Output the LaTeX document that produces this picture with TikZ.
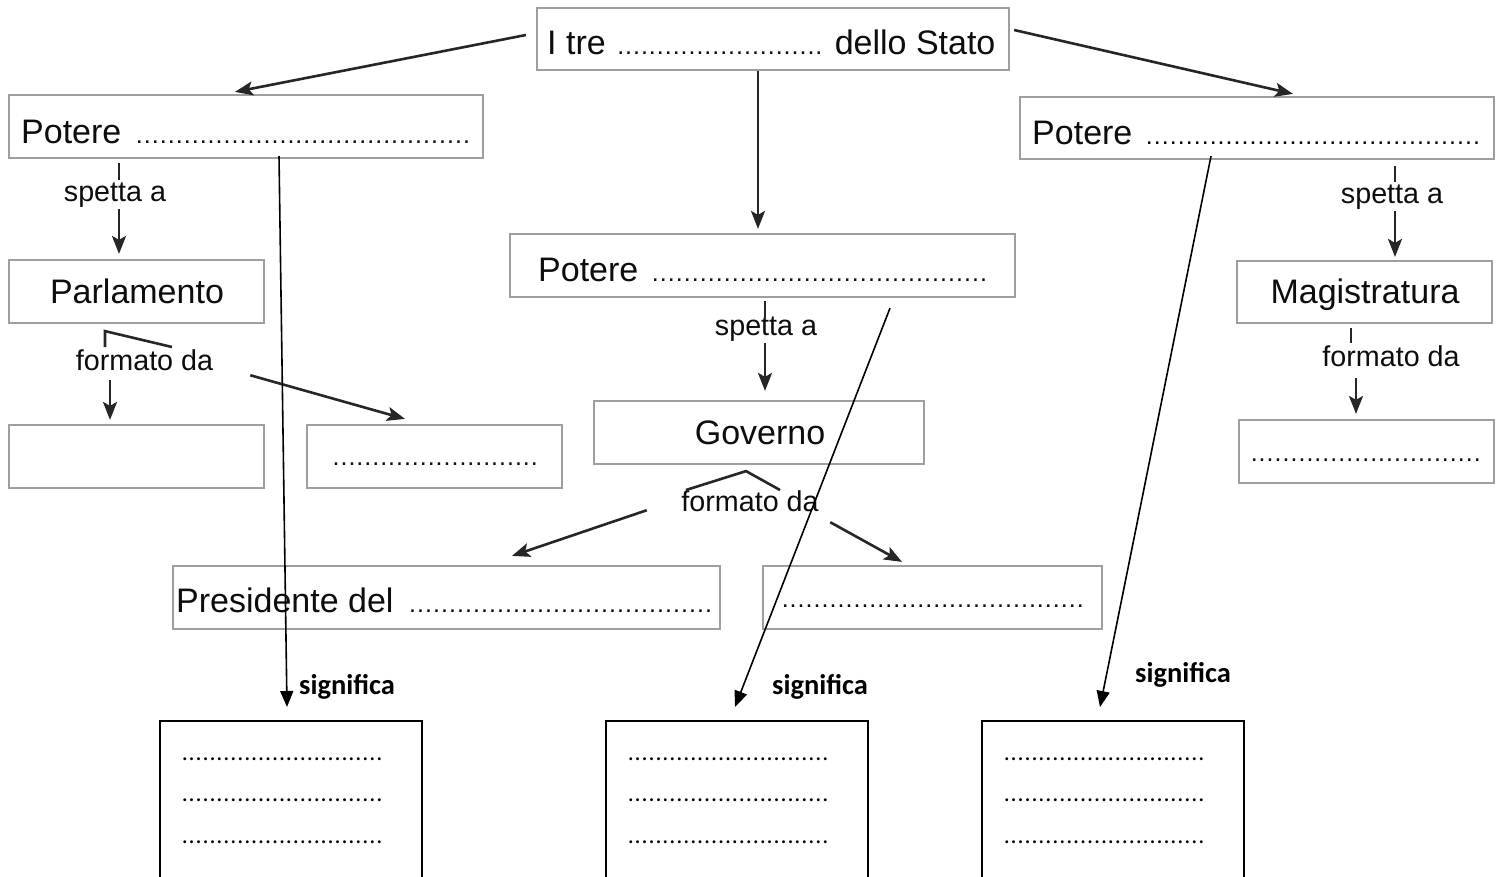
\documentclass[tikz,border=0pt]{standalone}
\usepackage{fontspec}
\setmainfont{Liberation Sans}
\newfontfamily\calibrifont{Carlito}
\usetikzlibrary{arrows.meta}
\newcommand\dotrow[2]{\hbox to #1{\xleaders\hbox to #2{\hss.\hss}\hfill}}
\newcommand\gdots[1]{{\fontsize{25}{28}\selectfont\dotrow{#1}{7.9pt}}}
\begin{document}
\begin{tikzpicture}[x=1pt,y=-1pt,
  gbox/.style={draw=gray!75, line width=2.2pt, minimum width=#1, minimum height=63pt, inner sep=0pt},
  bbox/.style={draw=black, line width=2pt, minimum width=262pt, minimum height=220pt, anchor=north, inner sep=0pt},
  bt/.style={font=\fontsize{34}{40}\selectfont, text=black!95, inner sep=0pt},
  lb/.style={font=\fontsize{28.7}{34}\selectfont, text=black!95, inner sep=2pt},
  sig/.style={font=\calibrifont\bfseries\fontsize{28.5}{34}\selectfont, inner sep=0pt},
  bd/.style={font=\calibrifont\fontsize{24}{28}\selectfont, inner sep=0pt},
  gl/.style={draw=black!85, line width=2.6pt},
  garr/.style={draw=black!85, line width=2.6pt, -{Stealth[length=18pt,width=14pt,inset=4pt]}},
  barr/.style={draw=black, line width=1.6pt, -{Triangle[length=16pt,width=13pt]}}
]
\clip (0,0) rectangle (1503,876);
\fill[white] (0,0) rectangle (1503,876);

% boxes
\node[gbox=472, minimum height=62pt] (T) at (773,39) {};
\node[gbox=474] (P1) at (246,126.5) {};
\node[gbox=474, minimum height=62pt] (P3) at (1257,128) {};
\node[gbox=505] (P2) at (762.5,265.5) {};
\node[gbox=255] (Parl) at (136.5,291.5) {};
\node[gbox=255, minimum height=62pt] (Mag) at (1364.5,292) {};
\node[gbox=330] (Gov) at (759,432.5) {};
\node[gbox=255] (L1) at (136.5,456.5) {};
\node[gbox=255] (L2) at (434.5,456.5) {};
\node[gbox=255] (M1) at (1366.5,451.5) {};
\node[gbox=547] (Pres) at (446.5,597.5) {};
\node[gbox=339] (G2) at (932.5,597.5) {};
\node[bbox] (B1) at (291,720) {};
\node[bbox] (B2) at (737,720) {};
\node[bbox] (B3) at (1113,720) {};

% texts
\node[bt, anchor=base west] (tT) at (547,54) {I tre\kern11pt\gdots{206pt}\kern12pt dello Stato};
\node[bt, anchor=base west] (tP1) at (21,143) {Potere\kern14pt\gdots{335pt}};
\node[bt, anchor=base west] (tP3) at (1032,144) {Potere\kern13pt\gdots{335pt}};
\node[bt, anchor=base west] (tP2) at (538,281) {Potere\kern13pt\gdots{336pt}};
\node[bt, anchor=base] (tParl) at (137,303) {Parlamento};
\node[bt, anchor=base] (tMag) at (1365,303) {Magistratura};
\node[bt, anchor=base] (tGov) at (760,444) {Governo};
\node[bt, anchor=base west] (tPres) at (176,612) {Presidente del\kern15pt\gdots{304pt}};
\node[bt, anchor=base west] (tL2) at (332,465) {\gdots{206pt}};
\node[bt, anchor=base west] (tM1) at (1250,461) {\gdots{231pt}};
\node[bt, anchor=base west] (tG2) at (781,607) {\gdots{303pt}};

% labels
\node[lb, anchor=base] (S1) at (115,201) {spetta a};
\node[lb, anchor=base] (S3) at (1392,203) {spetta a};
\node[lb, anchor=base] (S2) at (766,335) {spetta a};
\node[lb, anchor=base] (F1) at (144.5,370) {formato da};
\node[lb, anchor=base] (F2) at (750,511) {formato da};
\node[lb, anchor=base] (F3) at (1391,366) {formato da};

% top connectors
\draw[garr] ([xshift=-10pt,yshift=4pt]T.west) -- ([xshift=-11pt,yshift=2pt]P1.north);
\draw[garr] ([xshift=-15pt]T.south) -- ([xshift=-4.5pt,yshift=4pt]P2.north);
\draw[garr] ([xshift=4pt,yshift=9pt]T.east) -- ([xshift=36pt,yshift=2pt]P3.north);

% spetta a
\draw[gl] ([xshift=-127pt,yshift=-4pt]P1.south) -- ([xshift=4pt]S1.north);
\draw[garr] ([xshift=4pt]S1.south) -- ([xshift=-17.5pt,yshift=5pt]Parl.north);
\draw[gl] ([xshift=138pt,yshift=-6pt]P3.south) -- ([xshift=3pt]S3.north);
\draw[garr] ([xshift=3pt]S3.south) -- ([xshift=30.5pt,yshift=3pt]Mag.north);
\draw[gl] ([xshift=2.5pt,yshift=-3pt]P2.south) -- ([xshift=-1pt,yshift=-5pt]S2.north);
\draw[garr] ([xshift=-1pt]S2.south) -- ([xshift=6pt,yshift=9pt]Gov.north);

% formato da
\draw[gl] ([xshift=-39.5pt]F1.north) -- ([xshift=-31.5pt,yshift=-7pt]Parl.south) -- ([xshift=27.5pt]F1.north);
\draw[garr] ([xshift=-34.5pt,yshift=-8pt]F1.south) -- ([xshift=-26.5pt,yshift=4pt]L1.north);
\draw[garr] ([xshift=35pt,yshift=-15.5pt]F1.east) -- ([xshift=-29.5pt,yshift=5pt]L2.north);
\draw[gl] ([xshift=-64pt,yshift=-2pt]F2.north) -- ([xshift=-13pt,yshift=-6pt]Gov.south) -- ([xshift=30pt,yshift=-2pt]F2.north);
\draw[garr] ([xshift=-32.5pt,yshift=-9.5pt]F2.west) -- ([xshift=65.5pt,yshift=9pt]Pres.north);
\draw[garr] ([xshift=9.5pt,yshift=-21.5pt]F2.east) -- ([xshift=-30.5pt,yshift=3pt]G2.north);
\draw[gl] ([xshift=-13.5pt,yshift=-4pt]Mag.south) -- ([xshift=-40pt]F3.north);
\draw[garr] ([xshift=-35pt,yshift=-10pt]F3.south) -- ([xshift=-10.5pt,yshift=5pt]M1.north);

% significa
\draw[barr] ([xshift=33pt,yshift=3pt]P1.south) -- ([xshift=-4pt,yshift=13pt]B1.north);
\draw[barr] ([xshift=127.5pt,yshift=-10pt]P2.south) -- ([xshift=-2pt,yshift=13pt]B2.north);
\draw[barr] ([xshift=-46pt,yshift=4pt]P3.south) -- ([xshift=-13pt,yshift=13pt]B3.north);
\node[sig, anchor=base west] (g1) at (299,694) {significa};
\node[sig, anchor=base west] (g2) at (772,694) {significa};
\node[sig, anchor=base west] (g3) at (1135,682) {significa};

% dotted lines in bottom boxes
\foreach \bx/\xx in {1/181,2/627,3/1003}{
  \foreach \r/\yy in {1/760,2/801,3/843}{
    \node[bd, anchor=base west] (d\bx\r) at (\xx,\yy) {\dotrow{202pt}{6.75pt}};
  }
}
\end{tikzpicture}
\end{document}
